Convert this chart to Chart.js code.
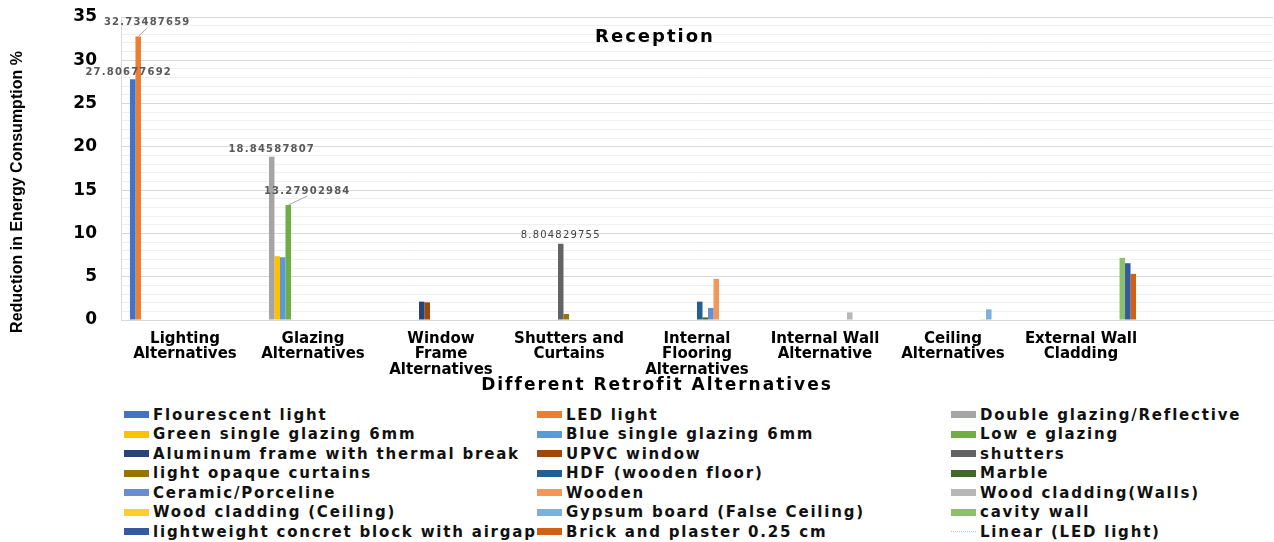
<!DOCTYPE html>
<html>
<head>
<meta charset="utf-8">
<script src="https://cdn.jsdelivr.net/npm/chart.js@4.4.0/dist/chart.umd.min.js"></script>
<style>
  body { margin: 0; background: #fff; }
  #wrap { position: relative; width: 1274px; height: 542px; overflow: hidden; }
  #chart { position: absolute; left: 0; top: 0; }
  #legend {
    position: absolute; left: 124px; top: 405px;
    display: grid; grid-template-columns: 413px 414px 320px; grid-auto-rows: 19.5px;
    font: bold 15px "DejaVu Sans", sans-serif; letter-spacing: 1.8px; color: #111;
  }
  .item { display: flex; align-items: center; white-space: nowrap; }
  .sw { width: 25px; height: 7px; margin-right: 4px; flex: none; }
  .sw.trend { height: 0; border-top: 1px dotted #f4b183; }
</style>
</head>
<body>
<div id="wrap">
  <canvas id="chart" width="1274" height="400"></canvas>
  <div id="legend"></div>
</div>
<script>
// categories on the x axis (last one is an empty slot, as in the original)
const categories = [
  ['Lighting', 'Alternatives'],
  ['Glazing', 'Alternatives'],
  ['Window', 'Frame', 'Alternatives'],
  ['Shutters and', 'Curtains'],
  ['Internal', 'Flooring', 'Alternatives'],
  ['Internal Wall', 'Alternative'],
  ['Ceiling', 'Alternatives'],
  ['External Wall', 'Cladding'],
  ''
];

const seriesNames = [
  'Flourescent light', 'LED light', 'Double glazing/Reflective',
  'Green single glazing 6mm', 'Blue single glazing 6mm', 'Low e glazing',
  'Aluminum frame with thermal break', 'UPVC window', 'shutters',
  'light opaque curtains', 'HDF (wooden floor)', 'Marble',
  'Ceramic/Porceline', 'Wooden', 'Wood cladding(Walls)',
  'Wood cladding (Ceiling)', 'Gypsum board (False Ceiling)', 'cavity wall',
  'lightweight concret block with airgap', 'Brick and plaster 0.25 cm'
];
// which category each series belongs to
const seriesCategory = [0, 0, 1, 1, 1, 1, 2, 2, 3, 3, 4, 4, 4, 4, 5, 6, 6, 7, 7, 7];
// reduction in energy consumption %
const seriesValues = [
  27.80677692, 32.73487659, 18.84587807,
  7.37, 7.25, 13.27902984,
  2.12, 2.04, 8.804829755,
  0.69, 2.12, 0.3,
  1.39, 4.75, 0.88,
  0.1, 1.23, 7.18,
  6.56, 5.33
];
const trendName = 'Linear (LED light)';

const palette = [
  '#4472C4', '#ED7D31', '#A5A5A5', '#FFC000', '#5B9BD5', '#70AD47',
  '#264478', '#9E480E', '#636363', '#997300', '#255E91', '#43682B',
  '#698ED0', '#F1975A', '#B7B7B7', '#FFCD33', '#7CAFDD', '#8CC168',
  '#335AA1', '#D26012'
];

// data labels shown in the original: series index -> placement
const valueLabels = {
  0: { dx: -4, dy: -7 },
  1: { dx: 9, dy: -14, leader: true },
  2: { dx: 0, dy: -7 },
  5: { dx: 19, dy: -14, leader: true },
  8: { dx: 0, dy: -8, light: true }
};

const datasets = seriesNames.map((name, i) => ({
  label: name,
  data: categories.map((c, j) => (j === seriesCategory[i] ? seriesValues[i] : null)),
  backgroundColor: palette[i],
  borderWidth: 0,
  categoryPercentage: 0.86,
  barPercentage: 1
}));
datasets.push({
  type: 'line',
  label: trendName,
  data: categories.map(() => null),
  borderColor: '#f4b183',
  borderDash: [1, 2],
  borderWidth: 1,
  pointRadius: 0
});

const decorations = {
  id: 'decorations',
  afterDatasetsDraw(chart) {
    const ctx = chart.ctx;
    ctx.save();
    Object.keys(valueLabels).forEach(k => {
      const i = Number(k);
      const opt = valueLabels[k];
      const el = chart.getDatasetMeta(i).data[seriesCategory[i]];
      const lx = el.x + opt.dx, ly = el.y + opt.dy;
      if (opt.leader) {
        ctx.strokeStyle = '#a6a6a6';
        ctx.lineWidth = 1;
        ctx.beginPath();
        ctx.moveTo(el.x, el.y);
        ctx.lineTo(lx, ly + 5);
        ctx.stroke();
      }
      ctx.letterSpacing = '1.2px';
      ctx.font = (opt.light ? '' : 'bold ') + '10px "DejaVu Sans"';
      ctx.fillStyle = opt.light ? '#404040' : '#595959';
      ctx.textAlign = 'center';
      ctx.textBaseline = 'middle';
      ctx.fillText(String(seriesValues[i]), lx, ly);
    });
    ctx.restore();
  },
  afterDraw(chart) {
    const ctx = chart.ctx;
    ctx.save();
    ctx.fillStyle = '#000';
    ctx.textAlign = 'center';
    ctx.textBaseline = 'middle';
    // chart title
    ctx.letterSpacing = '2px';
    ctx.font = 'bold 18px "DejaVu Sans"';
    ctx.fillText('Reception', 655, 37);
    // x axis title
    ctx.font = 'bold 17px "DejaVu Sans"';
    ctx.fillText('Different Retrofit Alternatives', 657, 386);
    // y axis title
    ctx.letterSpacing = '0px';
    ctx.translate(18, 192);
    ctx.rotate(-Math.PI / 2);
    ctx.font = 'bold 16px "Liberation Sans"';
    ctx.fillText('Reduction in Energy Consumption %', 0, 0);
    ctx.restore();
  }
};

const chart = new Chart(document.getElementById('chart'), {
  type: 'bar',
  data: { labels: categories, datasets: datasets },
  options: {
    responsive: false,
    animation: false,
    layout: { padding: { top: 17, right: 1, left: 0, bottom: 0 } },
    plugins: { legend: { display: false }, tooltip: { enabled: false }, title: { display: false } },
    scales: {
      x: {
        grid: { display: false },
        border: { color: '#d9d9d9' },
        ticks: {
          color: '#000', maxRotation: 0, autoSkip: false, padding: 3,
          font: { family: 'DejaVu Sans', weight: 'bold', size: 15, lineHeight: 1.04 }
        },
        afterFit: s => { s.height = 80; }
      },
      y: {
        min: 0, max: 35,
        grid: {
          color: c => (c.tick.value % 5 === 0 ? '#d9d9d9' : '#efefef'),
          drawTicks: false
        },
        border: { color: '#d6dce5' },
        ticks: {
          stepSize: 1, autoSkip: false, maxTicksLimit: 40, padding: 24, color: '#000',
          font: { family: 'DejaVu Sans', weight: 'bold', size: 17 },
          callback: v => (v % 5 === 0 ? v : '')
        },
        afterFit: s => { s.width = 121; s.paddingTop = 0; s.paddingBottom = 0; }
      }
    }
  },
  plugins: [decorations]
});

// legend in three columns, row by row, like the original
const legend = document.getElementById('legend');
chart.data.datasets.forEach(ds => {
  const item = document.createElement('div');
  item.className = 'item';
  const sw = document.createElement('span');
  sw.className = ds.type === 'line' ? 'sw trend' : 'sw';
  if (ds.type !== 'line') sw.style.background = ds.backgroundColor;
  const txt = document.createElement('span');
  txt.textContent = ds.label;
  item.appendChild(sw);
  item.appendChild(txt);
  legend.appendChild(item);
});
</script>
</body>
</html>
